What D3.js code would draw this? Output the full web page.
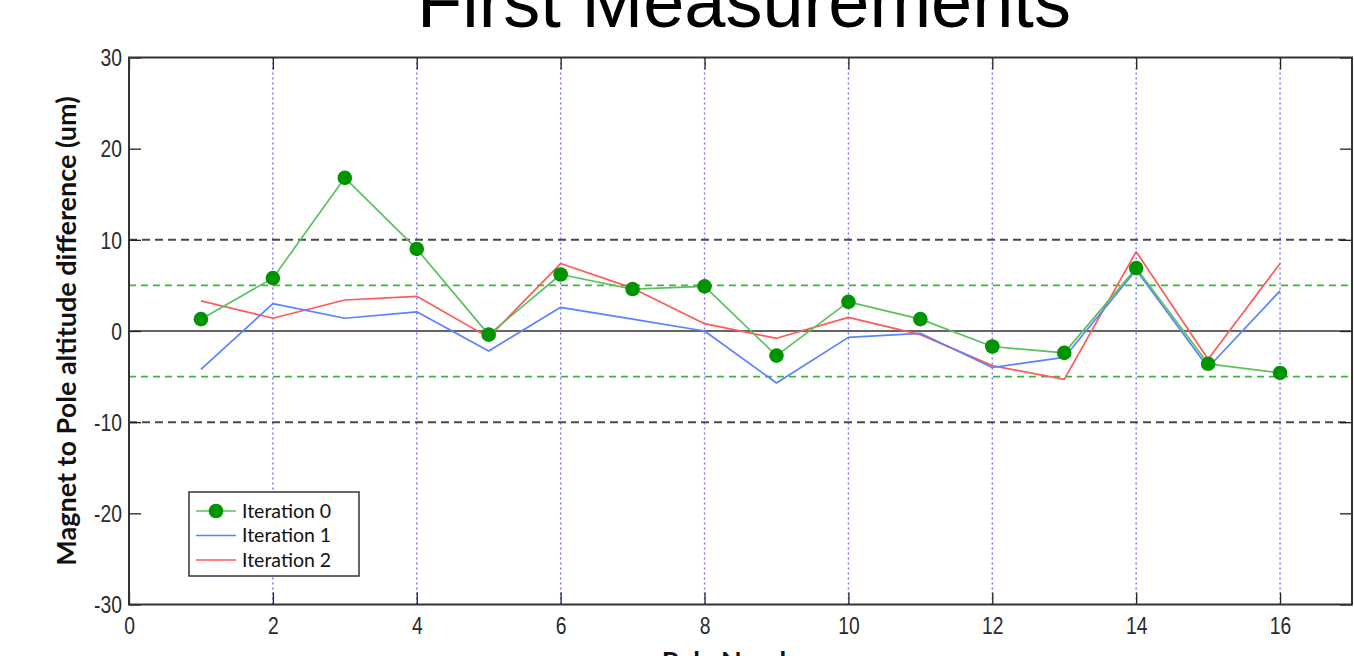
<!DOCTYPE html>
<html>
<head>
<meta charset="utf-8">
<script src="https://cdn.jsdelivr.net/npm/d3@7/dist/d3.min.js"></script>
<style>
  html, body { margin: 0; padding: 0; background: #fff; overflow: hidden; }
  svg { display: block; }
</style>
</head>
<body>
<svg id="chart" width="1354" height="656"></svg>
<script>
// Pole numbers and measured altitude differences (um) per iteration
const poles = [1, 2, 3, 4, 5, 6, 7, 8, 9, 10, 11, 12, 13, 14, 15, 16];
const iteration0 = [1.3, 5.8, 16.8, 9.0, -0.4, 6.2, 4.6, 4.9, -2.7, 3.2, 1.3, -1.7, -2.4, 6.9, -3.6, -4.6];
const iteration1 = [-4.2, 3.0, 1.4, 2.1, -2.2, 2.6, 1.3, 0.0, -5.7, -0.7, -0.25, -4.0, -2.9, 6.7, -4.0, 4.4];
const iteration2 = [3.3, 1.4, 3.4, 3.8, -0.7, 7.4, 4.7, 0.8, -0.8, 1.5, -0.4, -3.8, -5.3, 8.7, -3.1, 7.4];

const xTicks = [0, 2, 4, 6, 8, 10, 12, 14, 16];
const yTicks = [-30, -20, -10, 0, 10, 20, 30];
const gridPoles = [2, 4, 6, 8, 10, 12, 14, 16];
const outerLimits = [10, -10];
const innerLimits = [5, -5];

const seriesNames = ["Iteration 0", "Iteration 1", "Iteration 2"];

const svg = d3.select("#chart");
const margin = { left: 129, right: 2, top: 57.5, bottom: 51.5 };
const W = 1354, H = 656;
const x = d3.scaleLinear().domain([0, 17]).range([margin.left, W - margin.right]);
const y = d3.scaleLinear().domain([-30, 30]).range([H - margin.bottom, margin.top]);

const tickFont = "'Liberation Sans', Arial, sans-serif";
const labelFont = "Lato, 'Open Sans', sans-serif";
const narrow = 0.84; // horizontal squeeze of the tick numerals

// Title
svg.append("text")
  .attr("x", 744)
  .attr("y", 27)
  .attr("text-anchor", "middle")
  .attr("font-family", tickFont)
  .attr("font-size", 74)
  .attr("fill", "#000")
  .text("First Measurements");

const plot = svg.append("g");

// Vertical dotted guides at even poles
plot.selectAll("line.vgrid").data(gridPoles).join("line")
  .attr("class", "vgrid")
  .attr("x1", d => x(d)).attr("x2", d => x(d))
  .attr("y1", y(30)).attr("y2", y(-30))
  .attr("stroke", "#7373ff").attr("stroke-width", 1.4)
  .attr("stroke-dasharray", "2,3");

// Tolerance bands
plot.selectAll("line.outer").data(outerLimits).join("line")
  .attr("class", "outer")
  .attr("x1", x(0)).attr("x2", x(17))
  .attr("y1", d => y(d)).attr("y2", d => y(d))
  .attr("stroke", "#4a4a4a").attr("stroke-width", 2)
  .attr("stroke-dasharray", "8,5");

plot.selectAll("line.inner").data(innerLimits).join("line")
  .attr("class", "inner")
  .attr("x1", x(0)).attr("x2", x(17))
  .attr("y1", d => y(d)).attr("y2", d => y(d))
  .attr("stroke", "#3cb83c").attr("stroke-width", 1.6)
  .attr("stroke-dasharray", "7,5");

// Zero line
plot.append("line")
  .attr("x1", x(0)).attr("x2", x(17))
  .attr("y1", y(0)).attr("y2", y(0))
  .attr("stroke", "#333").attr("stroke-width", 1.6);

// Series lines
const line = d3.line().x((d, i) => x(poles[i])).y(d => y(d));
const series = [
  { name: seriesNames[0], values: iteration0, color: "#5cc05c", marker: true },
  { name: seriesNames[1], values: iteration1, color: "#5a82ff", marker: false },
  { name: seriesNames[2], values: iteration2, color: "#ff5a5a", marker: false }
];

// red first, then blue, then green on top
[series[2], series[1], series[0]].forEach(s => {
  plot.append("path")
    .datum(s.values)
    .attr("d", line)
    .attr("fill", "none")
    .attr("stroke", s.color)
    .attr("stroke-width", 1.7)
    .attr("stroke-linejoin", "round");
});

plot.selectAll("circle.m0").data(iteration0).join("circle")
  .attr("class", "m0")
  .attr("cx", (d, i) => x(poles[i]))
  .attr("cy", d => y(d))
  .attr("r", 7.3)
  .attr("fill", "#009400");

// Axes with inward ticks
const styleAxis = g => {
  g.select(".domain").remove();
  g.selectAll(".tick line").attr("stroke", "#222").attr("stroke-width", 1.3);
  g.selectAll(".tick text")
    .attr("font-family", tickFont)
    .attr("font-size", 23)
    .attr("fill", "#2a2a2a");
};

const bottomAxis = svg.append("g")
  .attr("transform", `translate(0,${y(-30)})`)
  .call(d3.axisBottom(x).tickValues(xTicks).tickSize(-12).tickPadding(12).tickFormat(d => String(d)))
  .call(styleAxis);
bottomAxis.selectAll(".tick text")
  .attr("y", 30).attr("dy", 0)
  .attr("transform", `scale(${narrow},1)`);

svg.append("g")
  .attr("transform", `translate(0,${y(30)})`)
  .call(d3.axisTop(x).tickValues(xTicks).tickSize(-12).tickFormat(""))
  .call(styleAxis);

const leftAxis = svg.append("g")
  .attr("transform", `translate(${x(0)},0)`)
  .call(d3.axisLeft(y).tickValues(yTicks).tickSize(-12).tickPadding(7).tickFormat(d => String(d)))
  .call(styleAxis);
leftAxis.selectAll(".tick text")
  .attr("x", -7 / narrow)
  .attr("dy", "0.36em")
  .attr("transform", `scale(${narrow},1)`);

svg.append("g")
  .attr("transform", `translate(${x(17)},0)`)
  .call(d3.axisRight(y).tickValues(yTicks).tickSize(-12).tickFormat(""))
  .call(styleAxis);

// Frame
svg.append("rect")
  .attr("x", x(0)).attr("y", y(30))
  .attr("width", x(17) - x(0)).attr("height", y(-30) - y(30))
  .attr("fill", "none").attr("stroke", "#333").attr("stroke-width", 2);

// Axis titles
svg.append("text")
  .attr("transform", `translate(76,${(y(30) + y(-30)) / 2}) rotate(-90)`)
  .attr("text-anchor", "middle")
  .attr("font-family", labelFont)
  .attr("font-weight", "bold")
  .attr("font-size", 27)
  .attr("fill", "#111")
  .text("Magnet to Pole altitude difference (um)");

svg.append("text")
  .attr("x", (x(0) + x(17)) / 2)
  .attr("y", 671)
  .attr("text-anchor", "middle")
  .attr("font-family", labelFont)
  .attr("font-weight", "bold")
  .attr("font-size", 27)
  .attr("fill", "#111")
  .text("Pole Number");

// Legend
const lg = svg.append("g").attr("transform", "translate(189,492)");
lg.append("rect")
  .attr("width", 170).attr("height", 84)
  .attr("fill", "#fff").attr("stroke", "#333").attr("stroke-width", 1.5);
series.forEach((s, i) => {
  const yy = 19 + i * 24.5;
  lg.append("line")
    .attr("x1", 7).attr("x2", 47).attr("y1", yy).attr("y2", yy)
    .attr("stroke", s.color).attr("stroke-width", 1.7);
  if (s.marker) {
    lg.append("circle").attr("cx", 27).attr("cy", yy).attr("r", 7.3).attr("fill", "#009400");
  }
  lg.append("text")
    .attr("x", 53).attr("y", yy)
    .attr("dy", "0.35em")
    .attr("font-family", labelFont)
    .attr("font-size", 19.5)
    .attr("fill", "#111")
    .text(s.name);
});
</script>
</body>
</html>
